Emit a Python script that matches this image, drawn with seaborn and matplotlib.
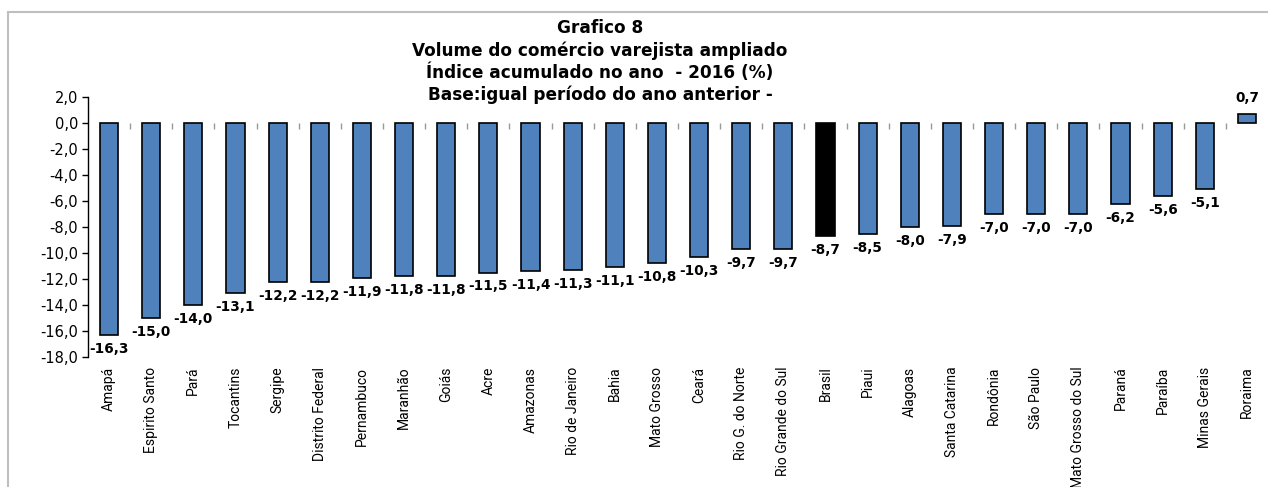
import matplotlib
matplotlib.use("Agg")
import matplotlib.pyplot as plt
import matplotlib.ticker as mticker
from matplotlib import font_manager
from matplotlib.patches import Rectangle
import seaborn as sns

# Data
estados = [
    "Amapá", "Espirito Santo", "Pará", "Tocantins", "Sergipe", "Distrito Federal",
    "Pernambuco", "Maranhão", "Goiás", "Acre", "Amazonas", "Rio de Janeiro",
    "Bahia", "Mato Grosso", "Ceará", "Rio G. do Norte", "Rio Grande do Sul",
    "Brasil", "Piaui", "Alagoas", "Santa Catarina", "Rondônia", "São Paulo",
    "Mato Grosso do Sul", "Paraná", "Paraíba", "Minas Gerais", "Roraima",
]
valores = [
    -16.3, -15.0, -14.0, -13.1, -12.2, -12.2, -11.9, -11.8, -11.8, -11.5,
    -11.4, -11.3, -11.1, -10.8, -10.3, -9.7, -9.7, -8.7, -8.5, -8.0,
    -7.9, -7.0, -7.0, -7.0, -6.2, -5.6, -5.1, 0.7,
]
titulo = [
    "Grafico 8",
    "Volume do comércio varejista ampliado",
    "Índice acumulado no ano  - 2016 (%)",
    "Base:igual período do ano anterior -",
]
y_ticks = [2, 0, -2, -4, -6, -8, -10, -12, -14, -16, -18]

AZUL = "#4F81BD"
cores = ["#000000" if e == "Brasil" else AZUL for e in estados]

sns.set_theme(style="white")
plt.rcParams["font.family"] = ["DejaVu Sans"]
plt.rcParams.update({
    "text.color": "black",
    "axes.labelcolor": "black",
    "xtick.color": "black",
    "ytick.color": "black",
})

# condensed font for category names, if there is one
nomes = {f.name for f in font_manager.fontManager.ttflist}
fonte_x = "Liberation Sans Narrow" if "Liberation Sans Narrow" in nomes else "Roboto"
tam_x = 11 if fonte_x == "Liberation Sans Narrow" else 10


def fmt_br(v):
    return f"{v:.1f}".replace(".", ",")


W, H = 1268, 487
fig = plt.figure(figsize=(W / 100, H / 100), dpi=100)
ax = fig.add_axes([88 / W, 1 - 357 / H, (W - 88) / W, 260 / H])

sns.barplot(x=estados, y=valores, hue=estados, palette=cores, legend=False,
            edgecolor="black", linewidth=1.2, width=0.43, ax=ax, saturation=1)

ax.set_ylim(-18, 2)
ax.set_xlim(-0.5, len(estados) - 0.5)
ax.set_yticks(y_ticks)
ax.yaxis.set_major_formatter(mticker.FuncFormatter(lambda v, p: fmt_br(v)))
ax.tick_params(axis="y", direction="out", length=4, width=1, color="black",
               labelsize=10.5, left=True, pad=3)
ax.tick_params(axis="x", length=0, pad=7)
for spine in ["top", "right", "bottom"]:
    ax.spines[spine].set_visible(False)
ax.spines["left"].set_color("black")
ax.spines["left"].set_linewidth(1)

ax.set_xticks(range(len(estados)))
ax.set_xticklabels(estados, rotation=90, va="top", ha="center",
                   fontsize=tam_x, family=fonte_x, color="black")

# zero line with category separators
zero_pos = (0 - (-18)) / 20
sec = ax.secondary_xaxis(zero_pos)
sec.set_xticks([i + 0.5 for i in range(len(estados) - 1)])
sec.set_xticklabels([])
sec.tick_params(direction="out", length=4, width=1, color="#999999")
sec.spines["bottom"].set_color("black")
sec.spines["bottom"].set_linewidth(1.2)
sec.spines["top"].set_visible(False)
sec.xaxis.set_ticks_position("bottom")

# value labels
for i, v in enumerate(valores):
    if v < 0:
        ax.annotate(fmt_br(v), (i, v), xytext=(0, -7), textcoords="offset pixels",
                    ha="center", va="top", fontsize=9.8, fontweight="bold",
                    color="black")
    else:
        ax.annotate(fmt_br(v), (i, v), xytext=(0, 9), textcoords="offset pixels",
                    ha="center", va="bottom", fontsize=9.8, fontweight="bold",
                    color="black")

# title
for k, linha in enumerate(titulo):
    fig.text(600 / W, 1 - (28 + 22.3 * k) / H, linha, ha="center", va="center",
             fontsize=12.2, fontweight="bold", color="black")

# outer frame
fig.patches.append(Rectangle((8 / W, -0.05), 1.0, 1 - 12 / H + 0.05,
                             transform=fig.transFigure, fill=False,
                             edgecolor="#BFBFBF", linewidth=1.5))

fig.savefig("out.png", dpi=100)
